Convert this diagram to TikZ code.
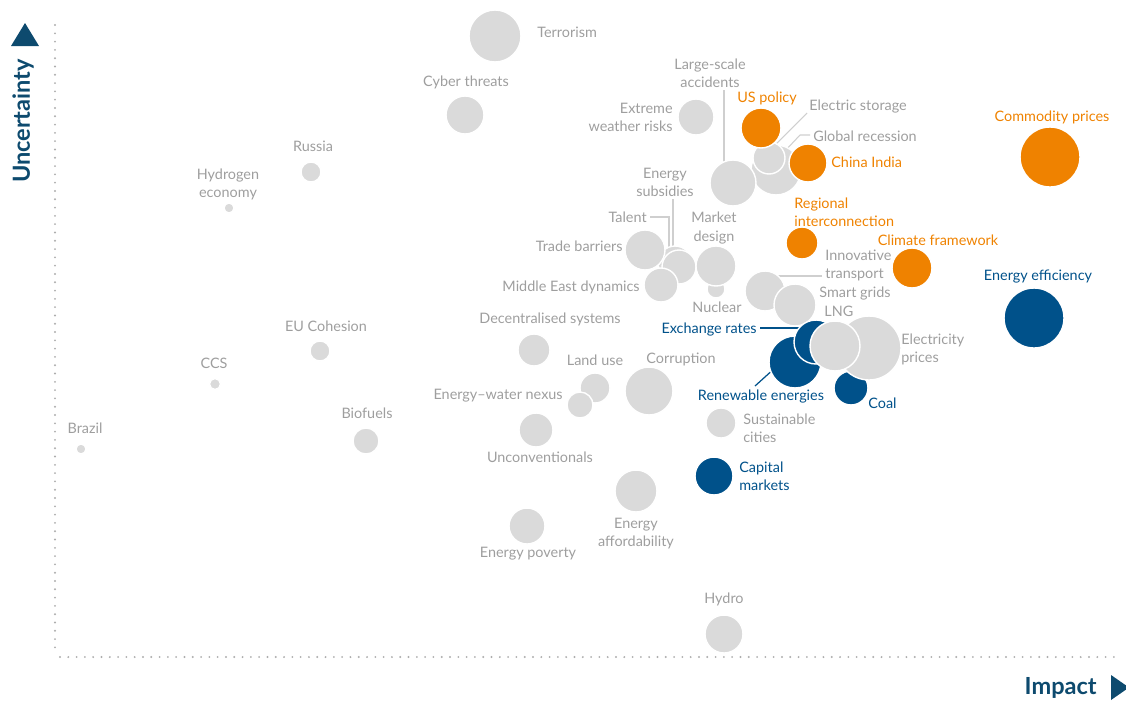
\documentclass[tikz,border=0pt]{standalone}
\usepackage{fontspec}
\setmainfont{Lato}
\definecolor{cgray}{HTML}{DADADA}
\definecolor{ctext}{HTML}{9E9E9E}
\definecolor{corange}{HTML}{EF8200}
\definecolor{cblue}{HTML}{00518A}
\definecolor{cnavy}{HTML}{0D4A6E}
\definecolor{cdot}{HTML}{ADADAD}
\definecolor{clead}{HTML}{CFCFCF}
\newcommand{\lbfont}{\fontsize{8.2pt}{10.3pt}\selectfont}
\tikzset{
  bub/.style={circle, draw=white, line width=0.8pt, inner sep=0pt, minimum size=#1*0.04cm},
  gb/.style={bub=#1, fill=cgray},
  ob/.style={bub=#1, fill=corange},
  bb/.style={bub=#1, fill=cblue},
  lbl/.style={text=ctext, font=\lbfont, align=center, inner sep=0pt},
  olbl/.style={lbl, text=corange},
  blbl/.style={lbl, text=cblue},
  lead/.style={draw=clead, line width=0.6pt},
  blead/.style={draw=cblue, line width=0.7pt},
  axdots/.style={draw=cdot, line width=1.2pt, line cap=round, dash pattern=on 0pt off 0.166cm},
  axislbl/.style={text=cnavy, font=\fontsize{13.4pt}{15pt}\selectfont\bfseries, inner sep=0pt}
}
\begin{document}
\begin{tikzpicture}[x=0.02cm, y=-0.02cm]
\useasboundingbox (0,0) rectangle (1126,701);
\clip (0,0) rectangle (1126,701);
% axes
\coordinate (ytop) at (55,25);
\coordinate (orig) at (55,655);
\coordinate (xo) at (60,657);
\coordinate (xend) at (1118,657);
\draw[axdots] (ytop) -- (orig);
\draw[axdots] (xo) -- (xend);
\fill[cnavy] (11,46) -- (39,46) -- (25,23) -- cycle;
\fill[cnavy] (1111,675) -- (1111,700) -- (1129,687.5) -- cycle;
\node[axislbl, rotate=90] (unc) at (23,121) {Uncertainty};
\node[axislbl, anchor=east] (imp) at (1097,688) {Impact};

% leader end coordinates
\coordinate (accA) at (724,90);
\coordinate (accB) at (724,183);
\coordinate (subA) at (673,199);
\coordinate (subB) at (673,265);
\coordinate (talA) at (650,217);
\coordinate (talB) at (669,217);
\coordinate (talC) at (669,265);
\coordinate (esA) at (807,113);
\coordinate (esB) at (772,148);
\coordinate (grA) at (810,135);
\coordinate (grB) at (800,135);
\coordinate (grC) at (784,152);
\coordinate (itA) at (822,276);
\coordinate (itB) at (768,276);
\coordinate (exA) at (760,328);
\coordinate (exB) at (812,328);
\coordinate (reA) at (755,386);
\coordinate (reB) at (776,367);
\draw[lead] (accA) -- (accB);
\draw[lead] (subA) -- (subB);
\draw[lead] (talA) -- (talB) -- (talC);
\draw[lead] (esA) -- (esB);
\draw[lead] (grA) -- (grB) -- (grC);
\draw[lead] (itA) -- (itB);
\draw[blead] (exA) -- (exB);
\draw[blead] (reA) -- (reB);

% gray bubbles
\node[gb=26] (terr) at (495,36) {};
\node[gb=19] (cyber) at (465,115) {};
\node[gb=10] (russia) at (311,172) {};
\node[gb=5] (hydrogen) at (229,208) {};
\node[gb=10] (eucoh) at (320,351) {};
\node[gb=5.5] (ccs) at (215,384) {};
\node[gb=5] (brazil) at (81,449) {};
\node[gb=13] (biof) at (366,441) {};
\node[gb=16] (decen) at (534,350) {};
\node[gb=15] (landuse) at (595,388) {};
\node[gb=13] (ewn) at (580,405) {};
\node[gb=24] (corr) at (649,391) {};
\node[gb=17] (uncon) at (536,430) {};
\node[gb=21] (afford) at (636,491) {};
\node[gb=18] (poverty) at (527,526) {};
\node[gb=19] (hydro) at (724,634) {};
\node[gb=15] (sust) at (721,423) {};
\node[gb=18] (extreme) at (696,117) {};
\node[gb=25] (glob) at (776,170) {};
\node[gb=23] (acc) at (733,183) {};
\node[gb=16] (estor) at (769,158) {};
\node[gb=17] (talent) at (675,263) {};
\node[gb=17] (subs) at (679,267) {};
\node[gb=20] (trade) at (645,250) {};
\node[gb=17] (mideast) at (661,285) {};
\node[gb=9] (nuclear) at (716,289) {};
\node[gb=20] (market) at (716,266) {};
\node[gb=20] (innov) at (765,291) {};
\node[gb=21] (smart) at (795,305) {};
% orange bubbles
\node[ob=20] (uspol) at (761,128) {};
\node[ob=19] (china) at (808,163) {};
\node[ob=16] (region) at (802,243) {};
\node[ob=20] (climate) at (912,268) {};
\node[ob=30] (commod) at (1050,157) {};
% blue bubbles and cluster
\node[bb=30] (eneff) at (1034,318) {};
\node[bb=19] (capital) at (714,476) {};
\node[bb=17] (coal) at (851,388) {};
\node[bb=26] (renew) at (795,362) {};
\node[bb=22] (exch) at (816,342) {};
\node[gb=32] (elec) at (869,348) {};
\node[gb=25] (lng) at (835,346) {};

% labels
\node[lbl, anchor=west] (lterr) at (537,32) {Terrorism};
\node[lbl] (lcyber) at (466,82) {Cyber threats};
\node[lbl] (lrussia) at (313,146) {Russia};
\node[lbl] (lhydrogen) at (228,184) {Hydrogen\\economy};
\node[lbl] (leucoh) at (326,326) {EU Cohesion};
\node[lbl] (lccs) at (214,363) {CCS};
\node[lbl] (lbrazil) at (85,428) {Brazil};
\node[lbl] (lbiof) at (367,413) {Biofuels};
\node[lbl] (ldecen) at (550,319) {Decentralised systems};
\node[lbl] (llanduse) at (595,360) {Land use};
\node[lbl, anchor=east] (lewn) at (563,396) {Energy\textendash water nexus};
\node[lbl] (lcorr) at (681,359) {Corruption};
\node[lbl] (luncon) at (540,457) {Unconventionals};
\node[lbl] (lafford) at (636,534) {Energy\\affordability};
\node[lbl] (lpoverty) at (528,554) {Energy poverty};
\node[lbl] (lhydro) at (724,599) {Hydro};
\node[lbl, anchor=west, align=left] (lsust) at (743,428) {Sustainable\\cities};
\node[lbl, anchor=east, align=right] (lextreme) at (673,117) {Extreme\\weather risks};
\node[lbl] (lacc) at (710,73) {Large-scale\\accidents};
\node[lbl, anchor=west] (lestor) at (809,107) {Electric storage};
\node[lbl, anchor=west] (lglob) at (813,136) {Global recession};
\node[lbl] (lsubs) at (665,182) {Energy\\subsidies};
\node[lbl, anchor=east] (ltalent) at (647,217) {Talent};
\node[lbl] (lmarket) at (714,228) {Market\\design};
\node[lbl, anchor=east] (ltrade) at (623,246) {Trade barriers};
\node[lbl, anchor=east] (lmideast) at (640,287) {Middle East dynamics};
\node[lbl] (lnuclear) at (717,307) {Nuclear};
\node[lbl, anchor=west, align=left] (linnov) at (825,265) {Innovative\\transport};
\node[lbl, anchor=west] (lsmart) at (819,293) {Smart grids};
\node[lbl, anchor=west] (llng) at (824,311) {LNG};
\node[lbl, anchor=west, align=left] (lelec) at (901,349) {Electricity\\prices};
\node[olbl] (luspol) at (767,98) {US policy};
\node[olbl, anchor=west] (lchina) at (831,162) {China India};
\node[olbl, anchor=west, align=left] (lregion) at (794,212) {Regional\\interconnection};
\node[olbl] (lclimate) at (938,240) {Climate framework};
\node[olbl] (lcommod) at (1052,117) {Commodity prices};
\node[blbl] (leneff) at (1038,277) {Energy efficiency};
\node[blbl, anchor=east] (lexch) at (757,329) {Exchange rates};
\node[blbl] (lrenew) at (761,396) {Renewable energies};
\node[blbl, anchor=west] (lcoal) at (868,403) {Coal};
\node[blbl, anchor=west, align=left] (lcapital) at (739,476) {Capital\\markets};
\end{tikzpicture}
\end{document}
